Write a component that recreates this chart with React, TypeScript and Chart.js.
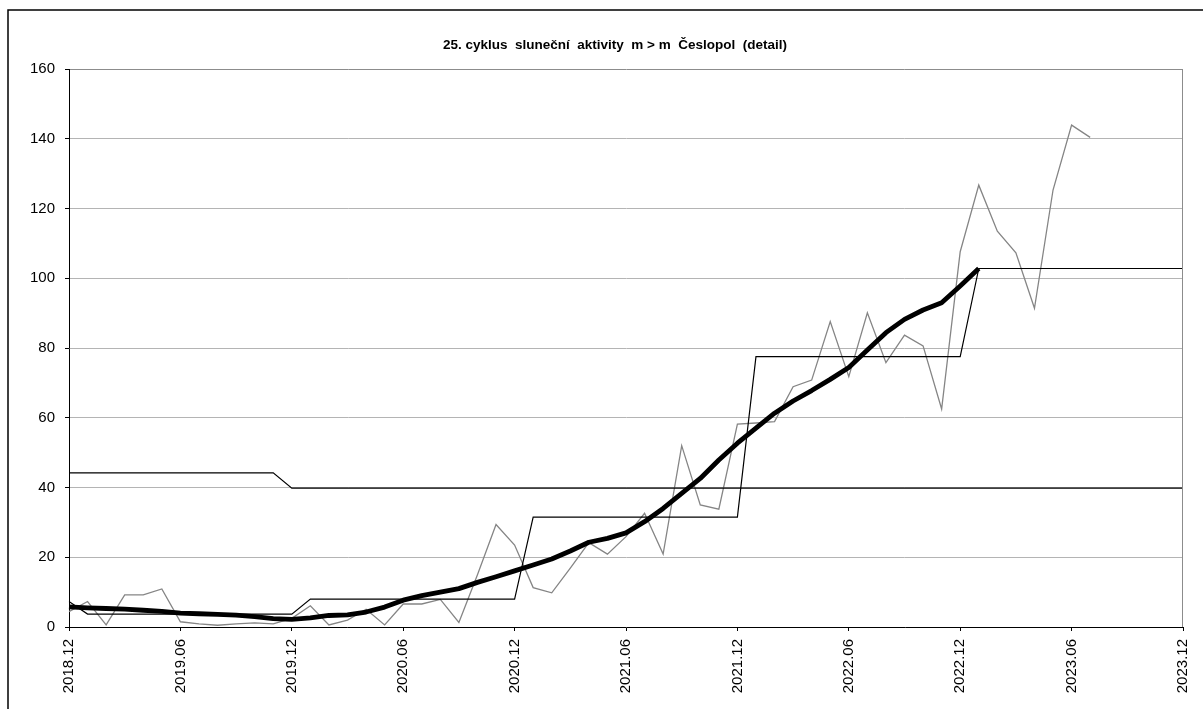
import React, { useEffect, useRef } from "react";
import { Chart, registerables } from "chart.js";

Chart.register(...registerables);

const months = [
  "2018.12",
  "2019.01", "2019.02", "2019.03", "2019.04", "2019.05", "2019.06", "2019.07", "2019.08", "2019.09", "2019.10", "2019.11", "2019.12",
  "2020.01", "2020.02", "2020.03", "2020.04", "2020.05", "2020.06", "2020.07", "2020.08", "2020.09", "2020.10", "2020.11", "2020.12",
  "2021.01", "2021.02", "2021.03", "2021.04", "2021.05", "2021.06", "2021.07", "2021.08", "2021.09", "2021.10", "2021.11", "2021.12",
  "2022.01", "2022.02", "2022.03", "2022.04", "2022.05", "2022.06", "2022.07", "2022.08", "2022.09", "2022.10", "2022.11", "2022.12",
  "2023.01", "2023.02", "2023.03", "2023.04", "2023.05", "2023.06", "2023.07", "2023.08", "2023.09", "2023.10", "2023.11", "2023.12",
];

// monthly values (gray)
const monthly = [
  4.4,
  7.3, 0.6, 9.2, 9.2, 10.9, 1.5, 0.9, 0.5, 0.9, 1.2, 0.9, 2.5,
  6.1, 0.6, 2.0, 5.1, 0.6, 6.6, 6.6, 7.9, 1.3, 15.0, 29.4, 23.5,
  11.3, 9.8, 16.9, 24.2, 20.9, 25.9, 32.6, 20.9, 52.0, 35.0, 33.8, 58.2,
  58.5, 58.9, 68.9, 70.8, 87.6, 71.8, 90.1, 75.8, 83.7, 80.6, 62.5, 107.6,
  126.7, 113.5, 107.3, 91.4, 125.3, 143.9, 140.4, null, null, null, null, null,
];

// smoothed values (thick black)
const smoothed = [
  5.8,
  5.5, 5.3, 5.1, 4.8, 4.5, 4.0, 3.8, 3.6, 3.4, 3.0, 2.4, 2.2,
  2.6, 3.3, 3.5, 4.3, 5.7, 7.7, 9.0, 10.0, 11.0, 12.8, 14.4, 16.1,
  17.8, 19.5, 21.8, 24.3, 25.4, 27.0, 30.2, 34.0, 38.3, 42.6, 47.9, 52.7,
  57.0, 61.3, 64.8, 67.8, 71.0, 74.4, 79.4, 84.4, 88.2, 90.9, 93.0, 97.8,
  102.8, null, null, null, null, null, null, null, null, null, null, null,
];

// yearly means (thin black step)
const yearly = [
  7.3,
  3.7, 3.7, 3.7, 3.7, 3.7, 3.7, 3.7, 3.7, 3.7, 3.7, 3.7, 3.7,
  8.0, 8.0, 8.0, 8.0, 8.0, 8.0, 8.0, 8.0, 8.0, 8.0, 8.0, 8.0,
  31.5, 31.5, 31.5, 31.5, 31.5, 31.5, 31.5, 31.5, 31.5, 31.5, 31.5, 31.5,
  77.5, 77.5, 77.5, 77.5, 77.5, 77.5, 77.5, 77.5, 77.5, 77.5, 77.5, 77.5,
  102.8, 102.8, 102.8, 102.8, 102.8, 102.8, 102.8, 102.8, 102.8, 102.8, 102.8, 102.8,
];

// reference level (thin black)
const reference = [
  44.2,
  44.2, 44.2, 44.2, 44.2, 44.2, 44.2, 44.2, 44.2, 44.2, 44.2, 44.2, 39.8,
  39.8, 39.8, 39.8, 39.8, 39.8, 39.8, 39.8, 39.8, 39.8, 39.8, 39.8, 39.8,
  39.8, 39.8, 39.8, 39.8, 39.8, 39.8, 39.8, 39.8, 39.8, 39.8, 39.8, 39.8,
  39.8, 39.8, 39.8, 39.8, 39.8, 39.8, 39.8, 39.8, 39.8, 39.8, 39.8, 39.8,
  39.8, 39.8, 39.8, 39.8, 39.8, 39.8, 39.8, 39.8, 39.8, 39.8, 39.8, 39.8,
];

const yTicks = [0, 20, 40, 60, 80, 100, 120, 140, 160];
const titleText = "25. cyklus  sluneční  aktivity  m > m  Česlopol  (detail)";

const FONT = "'Liberation Sans', Arial, sans-serif";

const framePlugin = {
  id: "frame",
  beforeDraw(chart: any) {
    const ctx = chart.ctx;
    ctx.save();
    ctx.fillStyle = "#ffffff";
    ctx.fillRect(0, 0, chart.width, chart.height);
    ctx.strokeStyle = "#000000";
    ctx.lineWidth = 1.5;
    ctx.beginPath();
    ctx.moveTo(8, chart.height);
    ctx.lineTo(8, 10);
    ctx.lineTo(chart.width, 10);
    ctx.stroke();
    ctx.restore();
  },
  afterDraw(chart: any) {
    const ctx = chart.ctx;
    const a = chart.chartArea;
    ctx.save();
    ctx.strokeStyle = "#8c8c8c";
    ctx.lineWidth = 1;
    ctx.beginPath();
    ctx.moveTo(a.right - 0.5, a.top);
    ctx.lineTo(a.right - 0.5, a.bottom);
    ctx.stroke();
    ctx.fillStyle = "#000000";
    ctx.font = `bold 13.5px ${FONT}`;
    ctx.textAlign = "center";
    ctx.textBaseline = "middle";
    ctx.fillText(titleText, 615, 45);
    ctx.restore();
  },
};

export default function App() {
  const ref = useRef<HTMLCanvasElement>(null);
  useEffect(() => {
    if (!ref.current) return;
    const chart = new Chart(ref.current, {
      type: "line",
      data: {
        labels: months,
        datasets: [
          {
            label: "smoothed",
            data: smoothed,
            borderColor: "#000000",
            borderWidth: 4.8,
            pointRadius: 0,
            tension: 0,
            borderJoinStyle: "round",
          },
          {
            label: "yearly",
            data: yearly,
            borderColor: "#000000",
            borderWidth: 1.2,
            pointRadius: 0,
            tension: 0,
          },
          {
            label: "reference",
            data: reference,
            borderColor: "#000000",
            borderWidth: 1.2,
            pointRadius: 0,
            tension: 0,
          },
          {
            label: "monthly",
            data: monthly,
            borderColor: "#858585",
            borderWidth: 1.3,
            pointRadius: 0,
            tension: 0,
          },
        ],
      },
      options: {
        responsive: false,
        animation: false,
        events: [],
        layout: { padding: { left: 0, top: 69, right: 20, bottom: 0 } },
        plugins: {
          legend: { display: false },
          title: { display: false },
          tooltip: { enabled: false },
        },
        scales: {
          x: {
            type: "category",
            offset: false,
            afterFit(scale: any) {
              scale.height = 82;
              scale.paddingLeft = 0;
              scale.paddingRight = 0;
            },
            grid: {
              drawOnChartArea: false,
              drawTicks: true,
              tickLength: 4,
              tickColor: "#000000",
            },
            border: { color: "#000000", width: 1 },
            ticks: {
              autoSkip: false,
              minRotation: 90,
              maxRotation: 90,
              padding: 8,
              color: "#000000",
              font: { family: FONT, size: 15 },
              callback: (_v: any, i: number) => (i % 6 === 0 ? months[i] : null),
            },
          },
          y: {
            min: 0,
            max: 160,
            afterFit(scale: any) {
              scale.width = 69;
              scale.paddingTop = 0;
              scale.paddingBottom = 0;
            },
            afterBuildTicks(scale: any) {
              scale.ticks = yTicks.map((v) => ({ value: v }));
            },
            grid: {
              drawTicks: true,
              tickLength: 4,
              tickColor: "#000000",
              color: (c: any) =>
                c.tick && c.tick.value === 160 ? "#8c8c8c" : c.tick && c.tick.value === 0 ? "rgba(0,0,0,0)" : "#b4b4b4",
            },
            border: { color: "#000000", width: 1 },
            ticks: {
              padding: 10,
              color: "#000000",
              font: { family: FONT, size: 15 },
            },
          },
        },
      },
      plugins: [framePlugin],
    });
    return () => chart.destroy();
  }, []);
  return (
    <div style={{ position: "fixed", left: 0, top: 0, width: 1203, height: 709, background: "#fff" }}>
      <canvas ref={ref} width={1203} height={709} style={{ width: 1203, height: 709, display: "block" }} />
    </div>
  );
}
